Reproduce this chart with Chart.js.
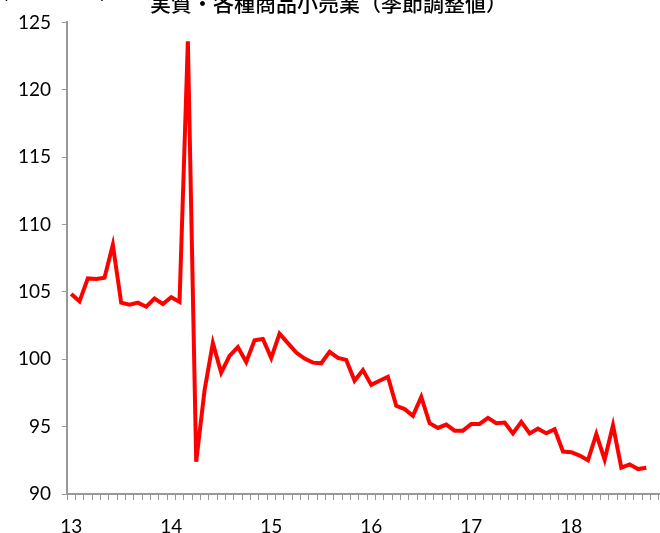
<!DOCTYPE html>
<html>
<head>
<meta charset="utf-8">
<script src="https://cdn.jsdelivr.net/npm/chart.js@4.4.1/dist/chart.umd.min.js"></script>
<style>
    html, body { margin: 0; padding: 0; background: #fff; overflow: hidden; }
    #wrap { position: relative; width: 660px; height: 533px; overflow: hidden; }
    #salesChart { position: absolute; left: 0; top: 0; }
    .title { position: absolute; top: -13px; left: 150px; font: 500 21px "Noto Sans CJK JP"; color: #000; white-space: nowrap; }
    .unit { position: absolute; top: -19px; left: 2px; font: 17px "Liberation Sans"; color: #000; white-space: nowrap; }
</style>
</head>
<body>
<div id="wrap">
    <canvas id="salesChart" width="678" height="533"></canvas>
    <div class="unit">(2010年=100)</div>
    <div class="title">実質・各種商品小売業（季節調整値）</div>
</div>
<script>
"use strict";

// year tick labels (one per 12 months)
const yearLabels = ['13', '14', '15', '16', '17', '18'];

// monthly index, Jan 2013 .. Oct 2018
const salesIndex = [
    104.85, 104.3, 106.0, 105.95, 106.05, 108.5, 104.2, 104.05, 104.2, 103.9,
    104.5, 104.1, 104.6, 104.25, 123.6, 92.4, 97.7, 101.2, 99.0, 100.25,
    100.9, 99.8, 101.4, 101.5, 100.1, 101.9, 101.2, 100.5, 100.05, 99.75,
    99.7, 100.55, 100.1, 99.95, 98.4, 99.2, 98.1, 98.4, 98.7, 96.55,
    96.3, 95.8, 97.2, 95.25, 94.9, 95.15, 94.7, 94.7, 95.2, 95.2,
    95.65, 95.25, 95.3, 94.5, 95.35, 94.5, 94.85, 94.5, 94.8, 93.15,
    93.1, 92.85, 92.5, 94.45, 92.55, 95.1, 91.95, 92.2, 91.85, 91.95
];

const yTicks = [90, 95, 100, 105, 110, 115, 120, 125];

// month categories: each year x 12
const months = [];
yearLabels.forEach(y => {
    for (let m = 1; m <= 12; m++) months.push(y + '/' + m);
});

const axisColor = '#999999';

const ctx = document.getElementById('salesChart').getContext('2d');
new Chart(ctx, {
    type: 'line',
    data: {
        labels: months,
        datasets: [{
            data: salesIndex,
            borderColor: '#ff0000',
            borderWidth: 4,
            pointRadius: 0,
            tension: 0,
            fill: false
        }]
    },
    options: {
        responsive: false,
        animation: false,
        layout: { padding: { top: 19, right: 0, bottom: 0, left: 0 } },
        plugins: {
            legend: { display: false },
            tooltip: { enabled: false }
        },
        scales: {
            x: {
                type: 'category',
                offset: true,
                grid: {
                    offset: true,
                    drawOnChartArea: false,
                    color: axisColor,
                    tickLength: 6,
                    lineWidth: 1
                },
                border: { color: axisColor, width: 2 },
                ticks: {
                    autoSkip: false,
                    maxRotation: 0,
                    padding: 15,
                    color: '#000',
                    font: { family: 'Lato', size: 19 },
                    callback: (val, i) => (i % 12 === 0 ? yearLabels[i / 12] : '')
                },
                afterFit: (scale) => { scale.height = 39; }
            },
            y: {
                min: 90,
                max: 125,
                afterBuildTicks: (scale) => { scale.ticks = yTicks.map(v => ({ value: v })); },
                grid: {
                    drawOnChartArea: false,
                    color: axisColor,
                    tickLength: 5,
                    lineWidth: 1
                },
                border: { color: axisColor, width: 2 },
                ticks: {
                    padding: 11,
                    color: '#000',
                    font: { family: 'Lato', size: 19 }
                },
                afterFit: (scale) => { scale.width = 67; }
            }
        }
    }
});
</script>
</body>
</html>
